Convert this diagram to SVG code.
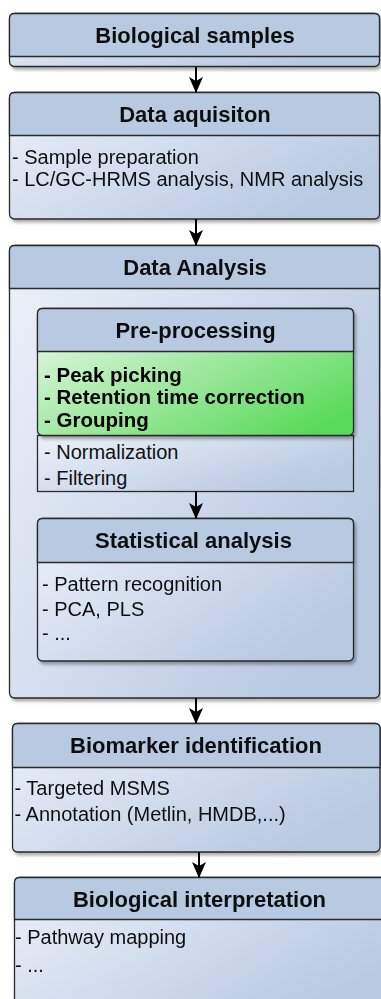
<svg xmlns="http://www.w3.org/2000/svg" width="381" height="999" viewBox="0 0 381 999">
<defs>
<linearGradient id="body" x1="0" y1="0" x2="1" y2="0.6">
<stop offset="0" stop-color="#EDF1F9"/>
<stop offset="1" stop-color="#B8C9E2"/>
</linearGradient>
<linearGradient id="green" x1="0" y1="0" x2="1" y2="0.8">
<stop offset="0" stop-color="#F1F9F1"/>
<stop offset="1" stop-color="#5ADA5A"/>
</linearGradient>
<filter id="sh" x="-5%" y="-5%" width="112%" height="115%">
<feDropShadow dx="2" dy="3" stdDeviation="1.5" flood-color="#000" flood-opacity="0.3"/>
</filter>
<marker id="arr" viewBox="0 0 16 14" refX="15" refY="7" markerWidth="16" markerHeight="14" markerUnits="userSpaceOnUse" orient="auto">
<path d="M0,0 L16,7 L0,14 L4,7 Z" fill="#000"/>
</marker>
</defs>
<style>
.box{stroke:#2a2a2a;stroke-width:1.3;fill:url(#body)}
.hdr{stroke:#2a2a2a;stroke-width:1.3;fill:#B8C9E2}
.t{font-family:"Liberation Sans",Arial,sans-serif;font-size:22px;font-weight:bold;fill:#111;text-anchor:middle}
.b{font-family:"Liberation Sans",Arial,sans-serif;font-size:20px;fill:#111}
.g{font-family:"Liberation Sans",Arial,sans-serif;font-size:20.5px;font-weight:bold;fill:#000}
.c{stroke:#000;stroke-width:2;fill:none}
</style>

<g id="biological-samples" filter="url(#sh)">
<rect class="box" x="9.5" y="13.5" width="370" height="53" rx="5"/>
<path class="hdr" d="M9.5,56.5 V18.5 Q9.5,13.5 14.5,13.5 H374.5 Q379.5,13.5 379.5,18.5 V56.5 Z"/>
<text class="t" x="195" y="43">Biological samples</text>
</g>

<g id="data-aquisiton" filter="url(#sh)">
<rect class="box" x="9.5" y="92.5" width="370" height="126.5" rx="5"/>
<path class="hdr" d="M9.5,135.5 V97.5 Q9.5,92.5 14.5,92.5 H374.5 Q379.5,92.5 379.5,97.5 V135.5 Z"/>
<text class="t" x="195" y="121.5">Data aquisiton</text>
<text class="b" x="12" y="164">- Sample preparation</text>
<text class="b" x="12" y="186">- LC/GC-HRMS analysis, NMR analysis</text>
</g>

<g id="data-analysis" filter="url(#sh)">
<rect class="box" x="9.5" y="245.5" width="370" height="452.5" rx="5"/>
<path class="hdr" d="M9.5,288.5 V250.5 Q9.5,245.5 14.5,245.5 H374.5 Q379.5,245.5 379.5,250.5 V288.5 Z"/>
<text class="t" x="195" y="274.5">Data Analysis</text>
</g>

<g id="pre-processing-steps">
<rect class="box" x="37.5" y="435.5" width="316" height="56"/>
<text class="b" x="44" y="458.5">- Normalization</text>
<text class="b" x="44" y="484.5">- Filtering</text>
</g>

<g id="pre-processing" filter="url(#sh)">
<rect x="37.5" y="308.5" width="316" height="127" rx="5" fill="url(#green)" stroke="#2a2a2a" stroke-width="1.3"/>
<path class="hdr" d="M37.5,351.5 V313.5 Q37.5,308.5 42.5,308.5 H348.5 Q353.5,308.5 353.5,313.5 V351.5 Z"/>
<text class="t" x="195.5" y="338">Pre-processing</text>
<text class="g" x="44" y="381.5">- Peak picking</text>
<text class="g" x="44" y="404">- Retention time correction</text>
<text class="g" x="44" y="427">- Grouping</text>
</g>

<g id="statistical-analysis" filter="url(#sh)">
<rect class="box" x="37.5" y="518.5" width="316" height="142.5" rx="5"/>
<path class="hdr" d="M37.5,562.5 V523.5 Q37.5,518.5 42.5,518.5 H348.5 Q353.5,518.5 353.5,523.5 V562.5 Z"/>
<text class="t" x="193.5" y="548">Statistical analysis</text>
<text class="b" x="42" y="591">- Pattern recognition</text>
<text class="b" x="42" y="615.5">- PCA, PLS</text>
<text class="b" x="42" y="639.5">- ...</text>
</g>

<g id="biomarker-identification" filter="url(#sh)">
<rect class="box" x="12.5" y="723.5" width="367.5" height="128.5" rx="5"/>
<path class="hdr" d="M12.5,767.5 V728.5 Q12.5,723.5 17.5,723.5 H375 Q380,723.5 380,728.5 V767.5 Z"/>
<text class="t" x="196" y="753">Biomarker identification</text>
<text class="b" x="14.5" y="795">- Targeted MSMS</text>
<text class="b" x="14.5" y="820.5">- Annotation (Metlin, HMDB,...)</text>
</g>

<g id="biological-interpretation" filter="url(#sh)">
<rect class="box" x="14.5" y="877.5" width="380" height="140" rx="5"/>
<path class="hdr" d="M14.5,919.5 V882.5 Q14.5,877.5 19.5,877.5 H389.5 Q394.5,877.5 394.5,882.5 V919.5 Z"/>
<text class="t" x="199.5" y="907">Biological interpretation</text>
<text class="b" x="15" y="943.5">- Pathway mapping</text>
<text class="b" x="15" y="972">- ...</text>
</g>

<g id="connectors">
<path class="c" d="M196,67 V92" marker-end="url(#arr)"/>
<path class="c" d="M196,219 V245" marker-end="url(#arr)"/>
<path class="c" d="M196,491.5 V518" marker-end="url(#arr)"/>
<path class="c" d="M196,698 V723" marker-end="url(#arr)"/>
<path class="c" d="M199,852 V877" marker-end="url(#arr)"/>
</g>
</svg>
